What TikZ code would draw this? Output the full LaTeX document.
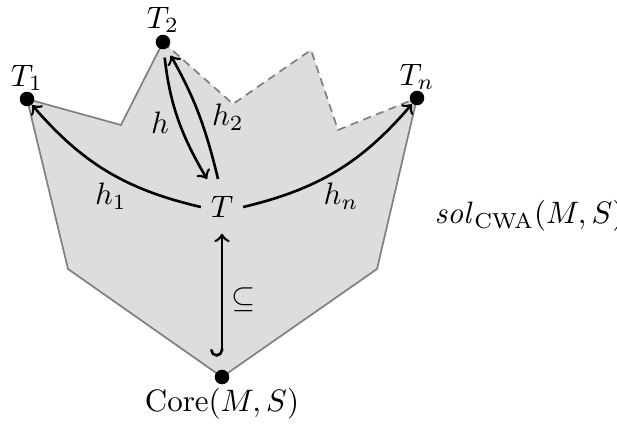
\documentclass[tikz,border=0pt]{standalone}
\usetikzlibrary{arrows}
\definecolor{regionfill}{RGB}{221,221,221}
\definecolor{regionline}{RGB}{128,128,128}
\begin{document}
\begin{tikzpicture}[x=0.01134cm,y=-0.01134cm,
  dot/.style={circle,fill=black,inner sep=0pt,minimum size=4.7pt},
  edge/.style={draw=regionline,line width=0.55pt},
  dashedge/.style={draw=regionline,line width=0.55pt,dash pattern=on 2.6pt off 1.8pt},
  morph/.style={->,>=to,line width=0.85pt},
  lbl/.style={inner sep=1pt}]
\useasboundingbox (0,0) rectangle (617,423);
\coordinate (T1c) at (27,99);
\coordinate (A) at (121,125);
\coordinate (T2c) at (163,42);
\coordinate (B) at (233,104);
\coordinate (C) at (311,50);
\coordinate (D) at (338,130);
\coordinate (Tnc) at (417,98);
\coordinate (E) at (377,269);
\coordinate (Corec) at (222,377);
\coordinate (F) at (68,269);
\fill[regionfill] (T1c) -- (A) -- (T2c) -- (B) -- (C) -- (D) -- (Tnc) -- (E) -- (Corec) -- (F) -- cycle;
\draw[edge] (T2c) -- (A) -- (T1c) -- (F) -- (Corec) -- (E) -- (Tnc);
\draw[dashedge] (T2c) -- (B) -- (C) -- (D) -- (Tnc);
\node[dot] (T1) at (T1c) {};
\node[dot] (T2) at (T2c) {};
\node[dot] (Tn) at (Tnc) {};
\node[dot] (Core) at (Corec) {};
\node[lbl] (T1l) at (27,78) {$T_1$};
\node[lbl] (T2l) at (163,20) {$T_2$};
\node[lbl] (Tnl) at (417,77) {$T_n$};
\node[lbl,below=0pt] (Corel) at (Core.south) {Core$(M,S)$};
\node[inner sep=3pt] (T) at (222,207) {$T$};
\coordinate (hend) at (207,179);
\coordinate (hstart) at (218,179);
\node[inner sep=0pt,anchor=west] (sol) at (434,216) {$\mathit{sol}_{\mathrm{CWA}}(M,S)$};
\draw[morph] (T.west) to[bend left=18] (T1);
\draw[morph] (T.east) to[bend right=18] (Tn);
\draw[morph,shorten <=2.5pt] (T2) to[bend right=12] (hend);
\draw[morph,shorten >=2.5pt] (hstart) to[bend right=8] (T2);
\draw[right hook->,>=to,line width=0.85pt] ([yshift=4pt]Core.north) -- ([yshift=-2pt]T.south);
\node[lbl] (h1l) at (111,196) {$h_1$};
\node[lbl] (hnl) at (341,196) {$h_n$};
\node[lbl] (hl) at (160,123) {$h$};
\node[lbl] (h2l) at (228,117) {$h_2$};
\node[lbl] (subl) at (244,300) {$\subseteq$};
\end{tikzpicture}
\end{document}
